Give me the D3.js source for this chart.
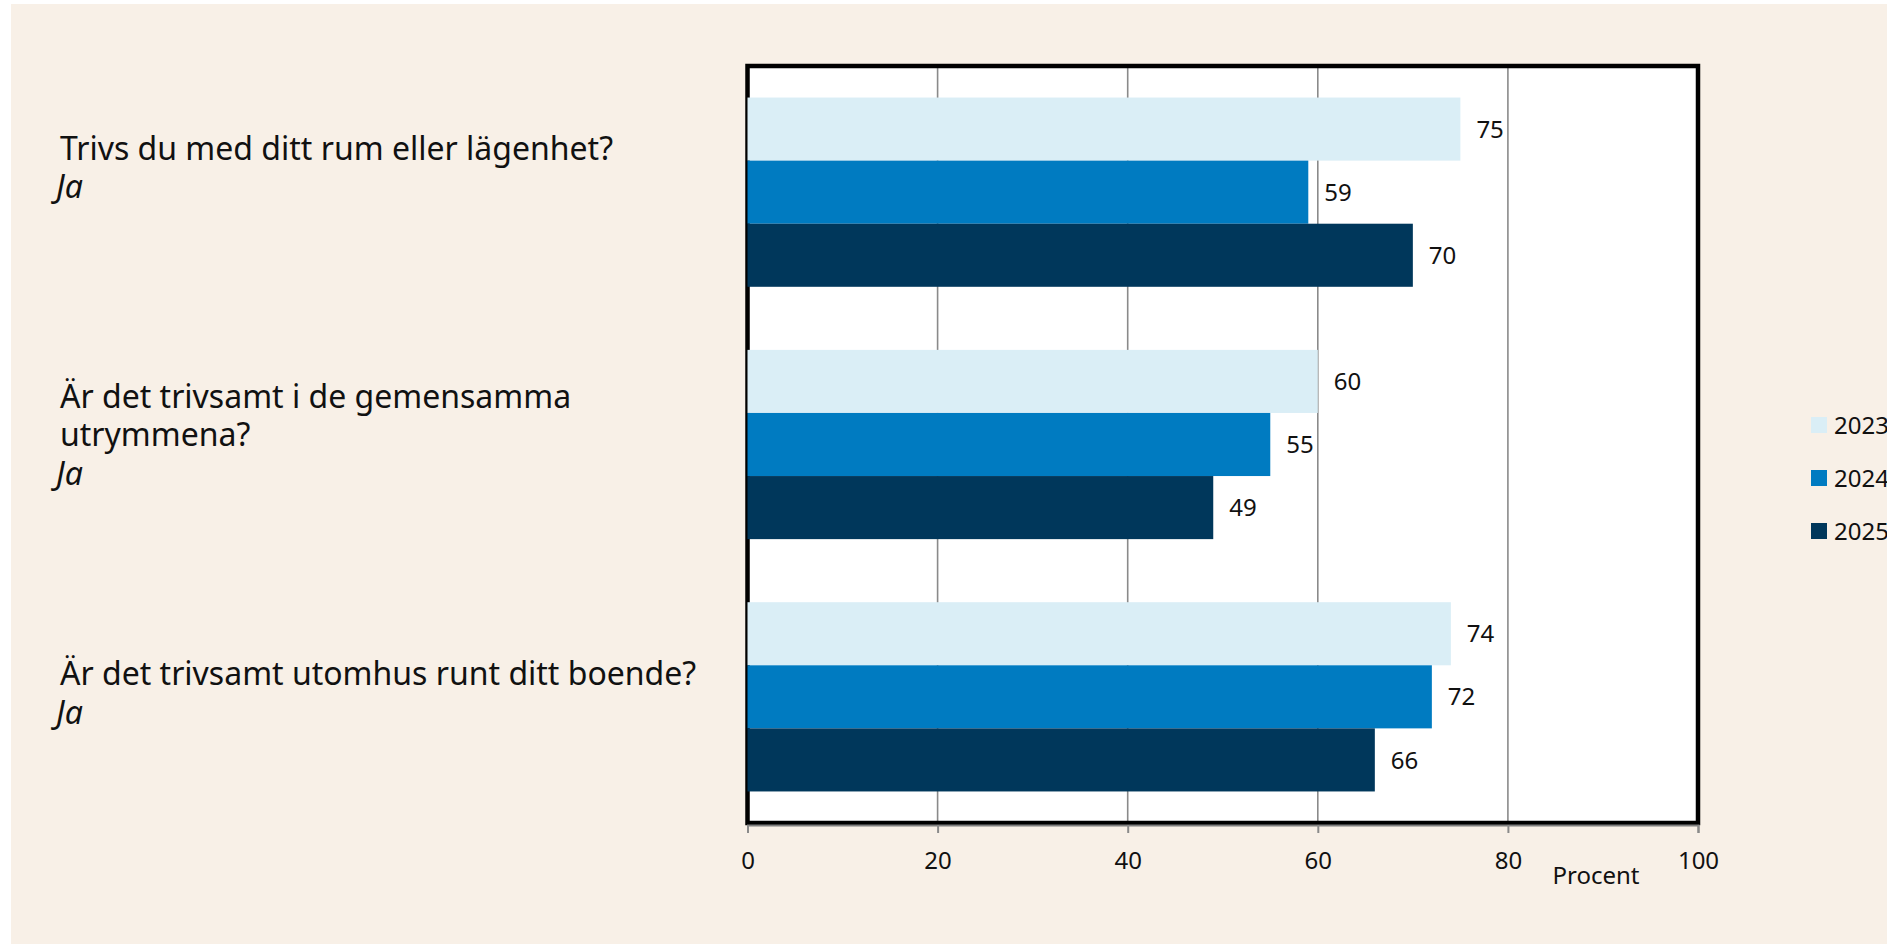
<!DOCTYPE html>
<html>
<head>
<meta charset="utf-8">
<script src="https://d3js.org/d3.v7.min.js"></script>
<style>
  body { margin: 0; background: #ffffff; overflow: hidden; }
  svg { display: block; font-family: "Noto Sans", "Open Sans", sans-serif; }
</style>
</head>
<body>
<script>
// data
var questions = [
  ["Trivs du med ditt rum eller lägenhet?"],
  ["Är det trivsamt i de gemensamma", "utrymmena?"],
  ["Är det trivsamt utomhus runt ditt boende?"]
];
var answers = ["Ja", "Ja", "Ja"];
var years = ["2023", "2024", "2025"];
var values2023 = [75, 60, 74];
var values2024 = [59, 55, 72];
var values2025 = [70, 49, 66];
var xTicks = [0, 20, 40, 60, 80, 100];
var axisTitle = "Procent";

var colors = { "2023": "#daeef6", "2024": "#007bc1", "2025": "#00375b" };
var series = { "2023": values2023, "2024": values2024, "2025": values2025 };

var W = 1887, H = 944;
var svg = d3.select("body").append("svg").attr("width", W).attr("height", H);

// beige panel
svg.append("rect").attr("x", 11).attr("y", 4).attr("width", W - 11).attr("height", H - 4)
  .style("fill", "#f8f0e7");

var x = d3.scaleLinear().domain([0, 100]).range([747.5, 1698]);
var y = d3.scaleBand().domain(d3.range(questions.length)).range([66, 823])
  .paddingInner(0.25).paddingOuter(0.125);
var ySub = d3.scaleBand().domain(years).range([0, y.bandwidth()]);

// plot area
svg.append("rect").attr("x", x(0)).attr("y", 66).attr("width", x(100) - x(0)).attr("height", 757)
  .style("fill", "#ffffff");

// gridlines
svg.selectAll("line.grid").data(xTicks.slice(1, -1)).enter().append("line")
  .attr("class", "grid")
  .attr("x1", function(d) { return x(d); }).attr("x2", function(d) { return x(d); })
  .attr("y1", 68).attr("y2", 821)
  .style("stroke", "#8a8a8a").style("stroke-width", 1.6);

// frame
svg.append("rect").attr("x", x(0)).attr("y", 66).attr("width", x(100) - x(0)).attr("height", 757)
  .style("fill", "none").style("stroke", "#000").style("stroke-width", 4.5);

// bars
years.forEach(function(yr) {
  svg.selectAll("rect.bar" + yr).data(series[yr]).enter().append("rect")
    .attr("class", "bar" + yr)
    .attr("x", x(0))
    .attr("y", function(d, i) { return y(i) + ySub(yr); })
    .attr("width", function(d) { return x(d) - x(0); })
    .attr("height", ySub.bandwidth())
    .style("fill", colors[yr]);

  svg.selectAll("text.val" + yr).data(series[yr]).enter().append("text")
    .attr("class", "val" + yr)
    .attr("x", function(d) { return x(d) + 16; })
    .attr("y", function(d, i) { return y(i) + ySub(yr) + ySub.bandwidth() / 2; })
    .attr("dy", "0.36em")
    .style("font-size", "24px").style("fill", "#111")
    .text(function(d) { return d; });
});

// x axis
var xAxis = d3.axisBottom(x).tickValues(xTicks).tickSize(8).tickSizeOuter(8).tickPadding(19);
var gx = svg.append("g").attr("transform", "translate(0,825)").call(xAxis);
gx.select(".domain").style("stroke", "#7f7f7f").style("stroke-width", 2);
gx.selectAll(".tick line").style("stroke", "#8a8a8a").style("stroke-width", 2);
gx.selectAll(".tick text").style("font-size", "24px").style("fill", "#111")
  .style("font-family", "'Noto Sans', sans-serif");

svg.append("text").attr("x", 1596).attr("y", 884).attr("text-anchor", "middle")
  .style("font-size", "24px").style("fill", "#111").text(axisTitle);

// question labels
var labelOffset = [62, 58, 83];
questions.forEach(function(lines, i) {
  var t = svg.append("text").attr("x", 60).attr("y", y(i) + labelOffset[i])
    .style("font-size", "32px").style("fill", "#111");
  lines.forEach(function(l, j) {
    t.append("tspan").attr("x", 60).attr("dy", j === 0 ? 0 : 38.5).text(l);
  });
  t.append("tspan").attr("x", 56).attr("dy", 38.5).style("font-style", "italic").text(answers[i]);
});

// legend
var leg = svg.selectAll("g.legend").data(years).enter().append("g")
  .attr("class", "legend")
  .attr("transform", function(d, i) { return "translate(1811," + (417 + i * 53) + ")"; });
leg.append("rect").attr("width", 16).attr("height", 16).style("fill", function(d) { return colors[d]; });
leg.append("text").attr("x", 23).attr("y", 8).attr("dy", "0.36em")
  .style("font-size", "24px").style("fill", "#111").text(function(d) { return d; });
</script>
</body>
</html>
